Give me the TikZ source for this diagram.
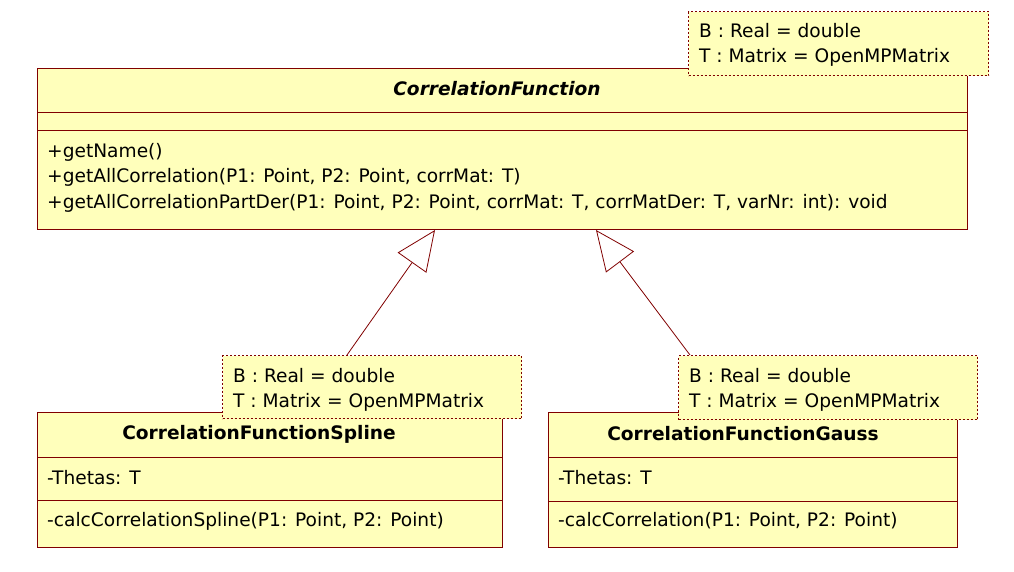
\documentclass[tikz,border=0pt]{standalone}
\usepackage{fontspec}
\setmainfont{DejaVu Sans}
\usetikzlibrary{arrows.meta,calc}
\definecolor{umlborder}{RGB}{128,0,0}
\definecolor{umlfill}{RGB}{255,255,187}
\tikzset{
  classbox/.style={draw=umlborder, fill=umlfill, line width=1pt, rectangle, anchor=north west, inner sep=0pt},
  tplbox/.style={draw=umlborder, fill=umlfill, line width=1pt, dash pattern=on 2pt off 2pt, rectangle, anchor=north west, inner sep=0pt},
  sep/.style={draw=umlborder, line width=1pt},
  txt/.style={anchor=west, inner sep=0pt, font=\fontsize{18.6}{22}\selectfont},
  ttl/.style={inner sep=0pt, font=\fontsize{18.6}{22}\selectfont\bfseries},
  gen/.style={draw=umlborder, line width=0.8pt, -{Triangle[open, length=40pt, width=35pt, fill=white]}},
}
\begin{document}
\begin{tikzpicture}[x=1pt, y=-1pt]
\useasboundingbox (0,0) rectangle (1014,571);
% top class
\node[classbox, minimum width=930pt, minimum height=161pt] (cf) at (37,68) {};
\draw[sep] (37,112) -- (967,112);
\draw[sep] (37,130) -- (967,130);
\node[ttl, font=\fontsize{18.6}{22}\selectfont\bfseries\itshape] (cft) at (497,89) {CorrelationFunction};
\node[txt] (m1) at (47,152) {+getName()};
\node[txt] (m2) at (47,177.5) {+getAllCorrelation(P1: Point, P2: Point, corrMat: T)};
\node[txt] (m3) at (47,203) {+getAllCorrelationPartDer(P1: Point, P2: Point, corrMat: T, corrMatDer: T, varNr: int): void};
\node[tplbox, minimum width=300pt, minimum height=64pt] (tt) at (688,11) {};
\node[txt] (tt1) at (699,31) {B : Real = double};
\node[txt] (tt2) at (699,57) {T : Matrix = OpenMPMatrix};
% bottom left class
\node[classbox, minimum width=465pt, minimum height=135pt] (cs) at (37,412) {};
\draw[sep] (37,457) -- (502,457);
\draw[sep] (37,500) -- (502,500);
\node[ttl] (cst) at (259,434) {CorrelationFunctionSpline};
\node[txt] (cs1) at (47,478) {-Thetas: T};
\node[txt] (cs2) at (47,521) {-calcCorrelationSpline(P1: Point, P2: Point)};
\node[tplbox, minimum width=299pt, minimum height=63pt] (tl) at (222,355) {};
\node[txt] (tl1) at (233,376) {B : Real = double};
\node[txt] (tl2) at (233,402) {T : Matrix = OpenMPMatrix};
% bottom right class
\node[classbox, minimum width=409pt, minimum height=135pt] (cg) at (548,412) {};
\draw[sep] (548,457) -- (957,457);
\draw[sep] (548,501) -- (957,501);
\node[ttl] (cgt) at (743,434) {CorrelationFunctionGauss};
\node[txt] (cg1) at (558,478) {-Thetas: T};
\node[txt] (cg2) at (558,521) {-calcCorrelation(P1: Point, P2: Point)};
\node[tplbox, minimum width=299pt, minimum height=64pt] (tr) at (678,355) {};
\node[txt] (tr1) at (689,376) {B : Real = double};
\node[txt] (tr2) at (689,402) {T : Matrix = OpenMPMatrix};
% generalizations
\draw[gen] ([xshift=125pt]tl.north west) -- ([xshift=398pt]cf.south west);
\draw[gen] ([xshift=12pt]tr.north west) -- ([xshift=559pt]cf.south west);
\end{tikzpicture}
\end{document}
